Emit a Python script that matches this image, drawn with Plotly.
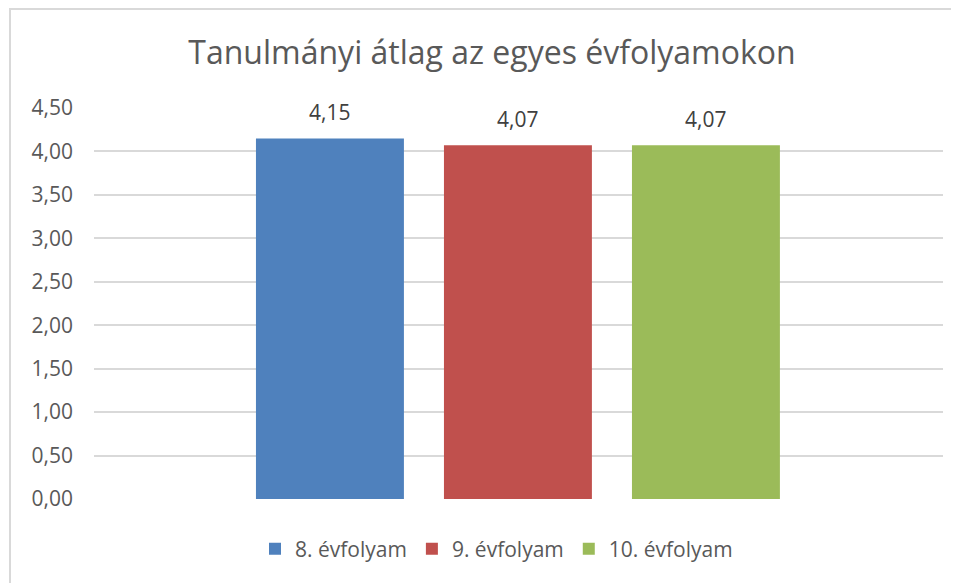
import plotly.graph_objects as go

title = "Tanulmányi átlag az egyes évfolyamokon"
series = ["8. évfolyam", "9. évfolyam", "10. évfolyam"]
values = [4.15, 4.07, 4.07]
colors = ["#4F81BD", "#C0504D", "#9BBB59"]
y_ticks = [0, 0.5, 1, 1.5, 2, 2.5, 3, 3.5, 4, 4.5]
y_labels = [f"{v:.2f}".replace(".", ",") for v in y_ticks]

FONT = "Open Sans"
GREY = "#595959"

# page offset (browser body margin)
OFF = 8
W, H = 959, 583
# target plot area in screen pixels
PL, PR, PT, PB = 94, 943, 108, 499
L, T = PL - OFF, PT - OFF
R = W - (PR - OFF)
B = H - (PB - OFF)
pw, ph = W - L - R, H - T - B
def px(x): return (x - PL) / pw
def py(y): return (PB - y) / ph

fig = go.Figure()
for name, val, col in zip(series, values, colors):
    fig.add_trace(go.Bar(
        x=[name], y=[val], name=name,
        marker=dict(color=col, line=dict(width=0)),
        hoverinfo="skip",
    ))
    fig.add_annotation(
        x=name, y=val, xref="x", yref="y",
        text=f"{val:.2f}".replace(".", ","),
        showarrow=False, yanchor="middle", yshift=26,
        font=dict(family=FONT, size=21, color="#404040"),
    )

# chart frame (only top/left visible in the crop)
fig.add_shape(type="rect", xref="paper", yref="paper",
              x0=px(10), x1=px(1100), y0=py(700), y1=py(9),
              line=dict(color="#D9D9D9", width=2), layer="below")

fig.update_layout(
    width=W, height=H,
    margin=dict(l=L, r=R, t=T, b=B),
    paper_bgcolor="white", plot_bgcolor="white",
    barmode="overlay", bargap=0.213,
    title=dict(text=title, x=(492 - OFF) / W, xanchor="center",
               y=1 - (52.5 - OFF) / H, yanchor="middle",
               font=dict(family=FONT, size=32, color=GREY)),
    showlegend=True,
    legend=dict(orientation="h", x=px(496.5), xanchor="center", y=py(549), yanchor="middle",
                font=dict(family=FONT, size=21, color=GREY), traceorder="normal"),
    xaxis=dict(range=[-1.255, 3.261], showticklabels=False, showgrid=False,
               zeroline=False, showline=False, ticks="", fixedrange=True),
    yaxis=dict(range=[0, 4.5], tickvals=y_ticks, ticktext=y_labels,
               showgrid=True, gridcolor="#D9D9D9", gridwidth=1.5,
               zeroline=False, showline=False, ticks="",
               ticklabelstandoff=20,
               tickfont=dict(family=FONT, size=21, color=GREY)),
)

fig.write_html("out.html")
